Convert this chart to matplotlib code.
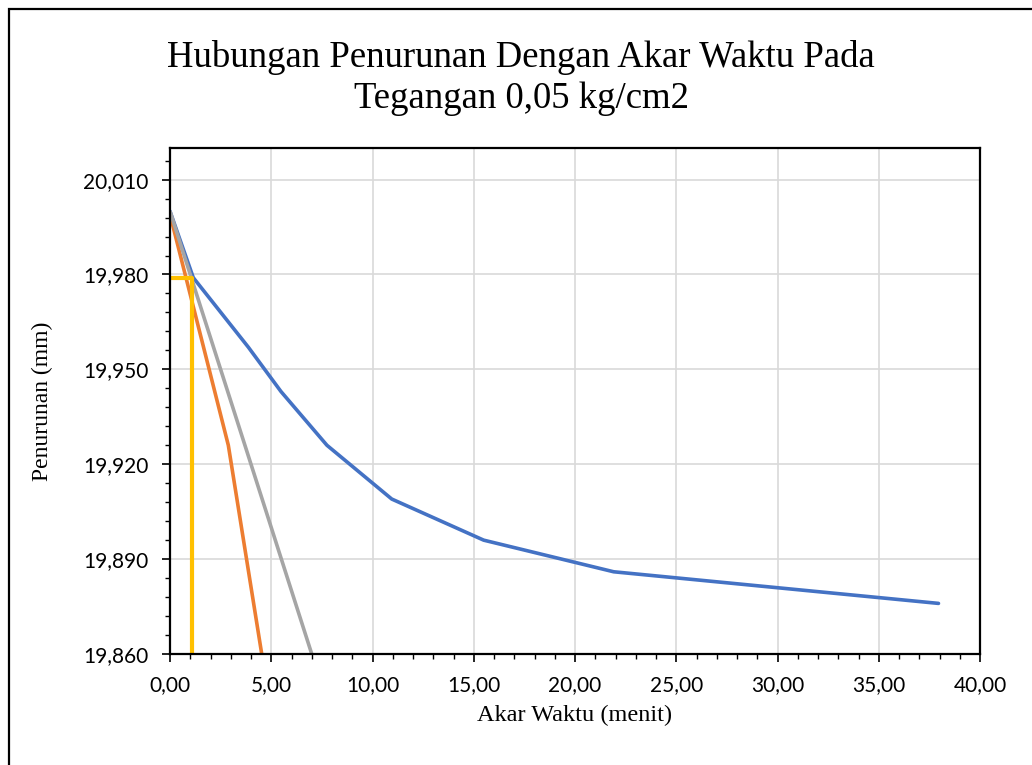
import matplotlib
matplotlib.use("Agg")
import matplotlib.pyplot as plt
from matplotlib.ticker import FixedLocator, FuncFormatter
from matplotlib.patches import Rectangle

# Settlement vs. square root of time
akar_waktu = [0.0, 1.15, 3.87, 5.48, 7.75, 10.95, 15.49, 21.91, 37.95]
penurunan = [20.000, 19.979, 19.957, 19.943, 19.926, 19.909, 19.896, 19.886, 19.876]

# Corrected line (1.15 x slope)
garis_koreksi_x = [0.0, 2.88, 4.53]
garis_koreksi_y = [19.999, 19.926, 19.860]

# Initial straight-line fit
garis_awal_x = [0.0, 7.0]
garis_awal_y = [20.000, 19.860]

# Reading of t90
t90_x = [0.0, 1.10, 1.10]
t90_y = [19.979, 19.979, 19.860]

title = "Hubungan Penurunan Dengan Akar Waktu Pada\nTegangan 0,05 kg/cm2"
x_label = "Akar Waktu (menit)"
y_label = "Penurunan (mm)"
x_ticks = [0, 5, 10, 15, 20, 25, 30, 35, 40]
y_ticks = [19.860, 19.890, 19.920, 19.950, 19.980, 20.010]

W, H = 1032, 765
fig = plt.figure(figsize=(W / 100, H / 100), dpi=100)
ax = fig.add_axes([170 / W, 1 - 654 / H, (980 - 170) / W, (654 - 148) / H])

lw = 2.6
ax.plot(akar_waktu, penurunan, color="#4472C4", lw=lw, solid_capstyle="round", zorder=3)
ax.plot(garis_koreksi_x, garis_koreksi_y, color="#ED7D31", lw=lw, solid_capstyle="butt", zorder=4)
ax.plot(garis_awal_x, garis_awal_y, color="#A5A5A5", lw=lw, solid_capstyle="butt", zorder=5)
ax.plot(t90_x, t90_y, color="#FFC000", lw=3.0, solid_capstyle="butt", zorder=6)

ax.set_xlim(0, 40)
ax.set_ylim(19.860, 20.020)

ax.xaxis.set_major_locator(FixedLocator(x_ticks))
ax.xaxis.set_minor_locator(FixedLocator([i for i in range(0, 41)]))
ax.yaxis.set_major_locator(FixedLocator(y_ticks))
ax.yaxis.set_minor_locator(FixedLocator([19.860 + 0.006 * i for i in range(27)]))

ax.xaxis.set_major_formatter(FuncFormatter(lambda v, p: f"{v:.2f}".replace(".", ",")))
ax.yaxis.set_major_formatter(FuncFormatter(lambda v, p: f"{v:.3f}".replace(".", ",")))

tick_font = "Lato"
for lab in ax.get_xticklabels() + ax.get_yticklabels():
    lab.set_fontfamily(tick_font)
    lab.set_fontsize(15)
    lab.set_color("#000000")

ax.tick_params(which="major", direction="out", length=5.5, width=1.2, color="black")
ax.tick_params(which="minor", direction="out", length=3.5, width=1.0, color="black")
ax.tick_params(axis="x", pad=10)
ax.tick_params(axis="y", pad=10)

ax.grid(True, which="major", color="#D9D9D9", lw=1.2)
ax.set_axisbelow(True)
for s in ax.spines.values():
    s.set_color("black")
    s.set_linewidth(1.6)
    s.set_zorder(7)

ax.set_xlabel(x_label, family="Liberation Serif", fontsize=17.5, labelpad=7)
ax.set_ylabel(y_label, family="Liberation Serif", fontsize=17, labelpad=22)

fig.text(521 / W, 1 - 78 / H, title, ha="center", va="center", family="Liberation Serif",
         fontsize=26.5, linespacing=1.25)

# Frame around the chart area
fig.patches.append(Rectangle((9 / W, -0.05), 1.1, 1 - 9 / H + 0.05, transform=fig.transFigure,
                             fill=False, edgecolor="black", lw=1.6))

fig.savefig("out.png", dpi=100)
